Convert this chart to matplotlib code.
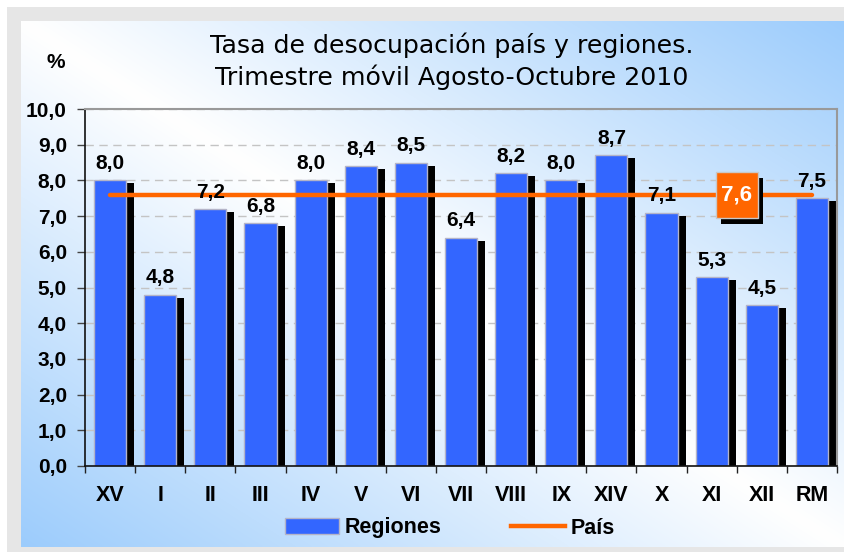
import matplotlib
matplotlib.use("Agg")
import matplotlib.pyplot as plt
import matplotlib.patheffects as pe
from matplotlib.patches import Patch, Rectangle
from matplotlib.lines import Line2D
from matplotlib.transforms import ScaledTranslation
import numpy as np

# Datos
regiones = ["XV", "I", "II", "III", "IV", "V", "VI", "VII", "VIII", "IX",
            "XIV", "X", "XI", "XII", "RM"]
tasas = [8.0, 4.8, 7.2, 6.8, 8.0, 8.4, 8.5, 6.4, 8.2, 8.0,
         8.7, 7.1, 5.3, 4.5, 7.5]
tasa_pais = 7.6
pos_etiqueta_pais = 12.5  # entre XI y XII
yticks = np.arange(0, 10.01, 1.0)

AZUL = "#3366ff"
NARANJA = "#ff6600"
FUENTE = "Liberation Sans"

W, H = 844, 552
fig = plt.figure(figsize=(W / 100, H / 100), dpi=100)

# Fondo: marco gris y degradado diagonal
bg = fig.add_axes([0, 0, 1, 1], zorder=-10)
bg.set_xlim(0, W)
bg.set_ylim(H, 0)
bg.axis("off")
bg.add_patch(Rectangle((7, 7), W, H, facecolor="#e6e6e6", edgecolor="none", zorder=0))
u = np.linspace(0, 1, 400)
v = np.linspace(0, 1, 300)
U, V = np.meshgrid(u, v)
f = np.abs(U - V)
blanco = np.array([1.0, 1.0, 1.0])
celeste = np.array([0x9c, 0xcc, 0xfc]) / 255
grad = blanco[None, None, :] * (1 - f[..., None]) + celeste[None, None, :] * f[..., None]
bg.imshow(grad, extent=(21, W, 547, 21), aspect="auto", interpolation="bilinear",
          zorder=1)

# Area del grafico
ax = fig.add_axes([85 / W, 1 - 466 / H, (837 - 85) / W, (466 - 109) / H])
ax.set_facecolor("none")
x = np.arange(len(regiones))

sombra = [pe.SimplePatchShadow(offset=(5.8, -2.2), shadow_rgbFace="black", alpha=1.0),
          pe.Normal()]
barras = ax.bar(x, tasas, width=0.64, color=AZUL, edgecolor="#b4b4c8",
                linewidth=1.0, zorder=2)
for b in barras:
    b.set_path_effects(sombra)

ax.plot([x[0], x[-1]], [tasa_pais, tasa_pais], color=NARANJA, lw=3.2,
        solid_capstyle="round", zorder=3)

for xi, val in zip(x, tasas):
    ax.annotate(f"{val:.1f}".replace(".", ","), (xi, val), xytext=(0, 5.2),
                textcoords="offset points", ha="center", va="bottom",
                fontsize=15, fontweight="bold", family=FUENTE, zorder=4)

# Etiqueta del pais: caja naranja con sombra (tamano en pulgadas)
caja_tr = fig.dpi_scale_trans + ScaledTranslation(pos_etiqueta_pais, tasa_pais, ax.transData)
caja = Rectangle((-0.21, -0.23), 0.42, 0.46, transform=caja_tr, facecolor=NARANJA,
                 edgecolor="#c8c8c8", linewidth=1, zorder=5, clip_on=False)
caja.set_path_effects([pe.SimplePatchShadow(offset=(3.6, -4.3), shadow_rgbFace="black",
                                            alpha=1.0), pe.Normal()])
ax.add_patch(caja)
ax.text(pos_etiqueta_pais, tasa_pais, f"{tasa_pais:.1f}".replace(".", ","), ha="center",
        va="center", color="white", fontsize=16, fontweight="bold",
        family=FUENTE, zorder=6)

ax.set_xlim(-0.5, len(regiones) - 0.5)
ax.set_ylim(0, 10)
ax.set_yticks(yticks)
ax.set_yticklabels([f"{v:.1f}".replace(".", ",") for v in yticks],
                   fontsize=15, fontweight="bold", family=FUENTE)
ax.set_xticks(x)
ax.set_xticklabels(regiones, fontsize=15.5, fontweight="bold", family=FUENTE)
ax.set_xticks(np.arange(-0.5, len(regiones)), minor=True)
ax.tick_params(axis="x", which="major", length=0, pad=14)
ax.tick_params(axis="x", which="minor", length=5, width=1, color="#222222")
ax.tick_params(axis="y", length=6, width=1, color="#444444", pad=7)

ax.yaxis.grid(True, linestyle=(0, (6, 4)), color="#c4c4c4", lw=1)
ax.set_axisbelow(True)
for s in ["top", "right"]:
    ax.spines[s].set_color("#999999")
    ax.spines[s].set_linewidth(1.5)
for s in ["left", "bottom"]:
    ax.spines[s].set_color("#111111")
    ax.spines[s].set_linewidth(1.2)

# Titulos
fig.text(452 / W, 1 - 61 / H,
         "Tasa de desocupación país y regiones.\nTrimestre móvil Agosto-Octubre 2010",
         ha="center", va="center", fontsize=18.2, family="DejaVu Sans",
         linespacing=1.3)
fig.text(56 / W, 1 - 63 / H, "%", ha="center", va="center", fontsize=15,
         fontweight="bold", family=FUENTE)

# Leyenda
handles = [Patch(facecolor=AZUL, edgecolor="#b4b4c8"),
           Line2D([], [], color=NARANJA, lw=3.2)]
fig.legend(handles, ["Regiones", "País"], loc="center",
           bbox_to_anchor=(450 / W, 1 - 528 / H), ncol=2, frameon=False,
           prop=dict(family=FUENTE, weight="bold", size=15.5),
           handlelength=2.5, handleheight=0.7, handletextpad=0.3,
           columnspacing=3.2)

fig.savefig("out.png", dpi=100)
